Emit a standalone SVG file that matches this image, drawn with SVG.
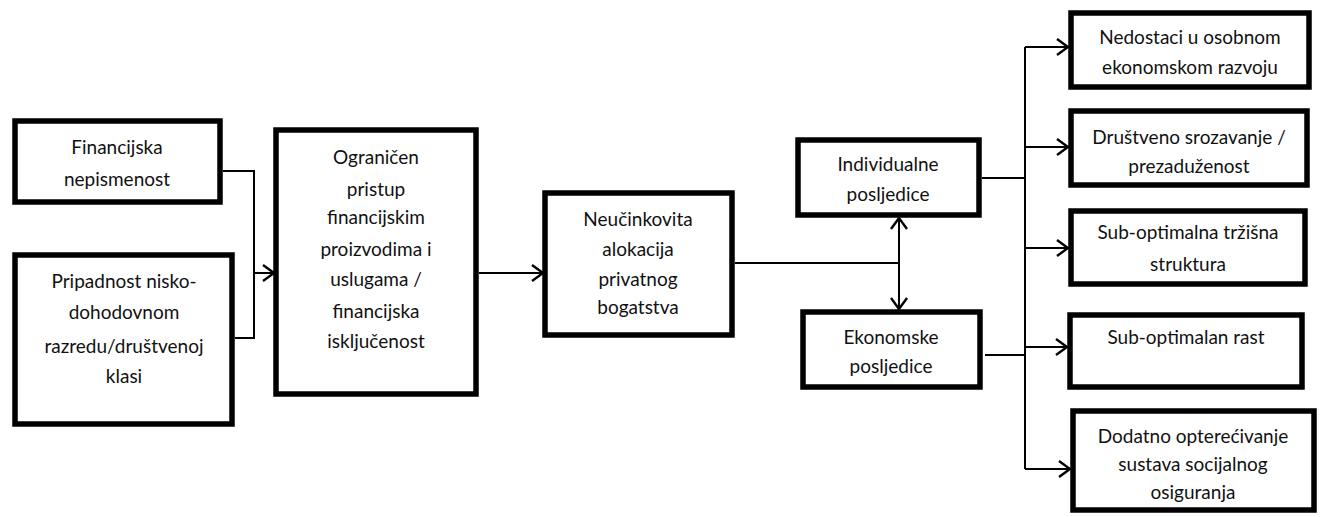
<svg xmlns="http://www.w3.org/2000/svg" width="1321" height="517" viewBox="0 0 1321 517">
<style>
.box{fill:#fff;stroke:#000;stroke-width:5.5}
.t{font-family:Lato,"Open Sans","Liberation Sans",sans-serif;font-size:19px;fill:#111;text-anchor:middle}
.c{fill:none;stroke:#000;stroke-width:2}
</style>
<defs>
<marker id="ah" viewBox="0 0 13 18" refX="12" refY="9" markerWidth="13" markerHeight="18" markerUnits="userSpaceOnUse" orient="auto-start-reverse">
<path d="M1,1 L12,9 L1,17" fill="none" stroke="#000" stroke-width="2.4"/>
</marker>
</defs>
<rect width="1321" height="517" fill="#fff"/>
<g id="connectors">
<path class="c" d="M223,171 H254 V338 H235"/>
<path class="c" d="M254,273 H274" marker-end="url(#ah)"/>
<path class="c" d="M479,273 H543" marker-end="url(#ah)"/>
<path class="c" d="M735,263 H899"/>
<path class="c" d="M899,218 V309" marker-start="url(#ah)" marker-end="url(#ah)"/>
<path class="c" d="M982,178 H1025"/>
<path class="c" d="M985,355 H1025"/>
<path class="c" d="M1025,47 V469"/>
<path class="c" d="M1025,47 H1068" marker-end="url(#ah)"/>
<path class="c" d="M1025,147 H1068" marker-end="url(#ah)"/>
<path class="c" d="M1025,248 H1068" marker-end="url(#ah)"/>
<path class="c" d="M1025,347 H1067" marker-end="url(#ah)"/>
<path class="c" d="M1025,469 H1070" marker-end="url(#ah)"/>
</g>
<g id="n1"><rect class="box" x="15" y="121" width="205" height="81"/>
<text class="t" x="117" y="154">Financijska</text><text class="t" x="117" y="186">nepismenost</text></g>
<g id="n2"><rect class="box" x="15" y="255" width="217" height="169"/>
<text class="t" x="124" y="288">Pripadnost nisko-</text><text class="t" x="124" y="319">dohodovnom</text><text class="t" x="124" y="353">razredu/društvenoj</text><text class="t" x="124" y="383">klasi</text></g>
<g id="n3"><rect class="box" x="276" y="130" width="200" height="264"/>
<text class="t" x="376" y="164">Ograničen</text><text class="t" x="376" y="196">pristup</text><text class="t" x="376" y="224">financijskim</text><text class="t" x="376" y="256">proizvodima i</text><text class="t" x="376" y="286">uslugama /</text><text class="t" x="376" y="318">financijska</text><text class="t" x="376" y="348">isključenost</text></g>
<g id="n4"><rect class="box" x="545" y="193" width="187" height="142"/>
<text class="t" x="638" y="226">Neučinkovita</text><text class="t" x="638" y="256">alokacija</text><text class="t" x="638" y="286">privatnog</text><text class="t" x="638" y="314">bogatstva</text></g>
<g id="n5"><rect class="box" x="798" y="140" width="181" height="75"/>
<text class="t" x="888" y="171">Individualne</text><text class="t" x="888" y="201">posljedice</text></g>
<g id="n6"><rect class="box" x="803" y="312" width="177" height="75"/>
<text class="t" x="891" y="344">Ekonomske</text><text class="t" x="891" y="373">posljedice</text></g>
<g id="n7"><rect class="box" x="1071" y="13" width="238" height="74"/>
<text class="t" x="1190" y="44">Nedostaci u osobnom</text><text class="t" x="1190" y="74">ekonomskom razvoju</text></g>
<g id="n8"><rect class="box" x="1071" y="111" width="236" height="74"/>
<text class="t" x="1189" y="144">Društveno srozavanje /</text><text class="t" x="1189" y="173">prezaduženost</text></g>
<g id="n9"><rect class="box" x="1071" y="211" width="234" height="73"/>
<text class="t" x="1188" y="239">Sub-optimalna tržišna</text><text class="t" x="1188" y="271">struktura</text></g>
<g id="n10"><rect class="box" x="1070" y="315" width="232" height="72"/>
<text class="t" x="1186" y="344">Sub-optimalan rast</text></g>
<g id="n11"><rect class="box" x="1073" y="411" width="241" height="99"/>
<text class="t" x="1193" y="443">Dodatno opterećivanje</text><text class="t" x="1193" y="471">sustava socijalnog</text><text class="t" x="1193" y="499">osiguranja</text></g>
</svg>
